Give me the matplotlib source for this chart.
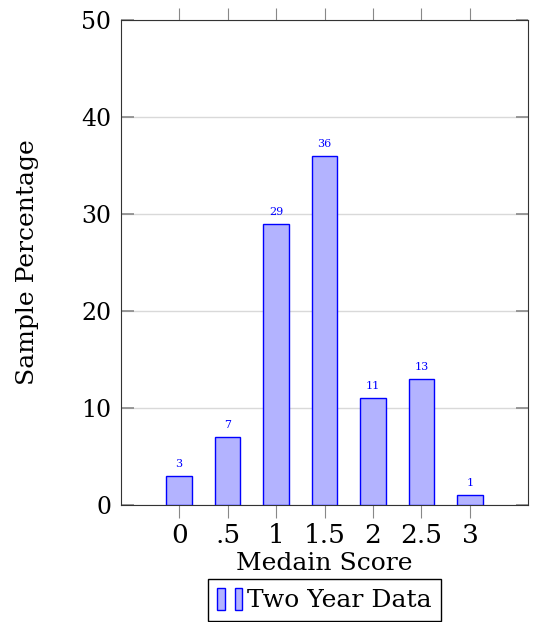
import matplotlib.pyplot as plt
from matplotlib.patches import Patch
from matplotlib.legend_handler import HandlerTuple

scores = ["0", ".5", "1", "1.5", "2", "2.5", "3"]
percent = [3, 7, 29, 36, 11, 13, 1]

plt.rcParams["font.family"] = ["DejaVu Serif"]

fig = plt.figure(figsize=(5.4, 6.22), dpi=100)
ax = fig.add_axes([0.224, 0.188, 0.754, 0.78])

x = list(range(len(scores)))
bars = ax.bar(x, percent, width=0.53, color="#b3b3ff", edgecolor="blue", linewidth=1, zorder=3)
for xi, v in zip(x, percent):
    ax.annotate(str(v), (xi, v), xytext=(0, 5), textcoords="offset points",
                ha="center", va="bottom", fontsize=8, color="blue")

ax.set_xlim(-1.2, 7.2)
ax.set_ylim(0, 50)
ax.set_xticks(x)
ax.set_xticklabels(scores, fontsize=19)
ax.set_yticks(range(0, 51, 10))
ax.tick_params(axis="y", labelsize=17, direction="in", left=True, right=True,
               length=9, color="#888888", width=1.2, pad=7)
ax.tick_params(axis="x", direction="out", top=True, bottom=True, length=9,
               color="#888888", pad=4)
ax.grid(axis="y", color="#d9d9d9", linewidth=1, zorder=0)
for s in ax.spines.values():
    s.set_color("#333333")

ax.set_xlabel("Medain Score", fontsize=18, labelpad=3)
ax.set_ylabel("Sample Percentage", fontsize=18, labelpad=30)

h = (Patch(facecolor="#b3b3ff", edgecolor="blue"), Patch(facecolor="#b3b3ff", edgecolor="blue"))
ax.legend([h], ["Two Year Data"], handler_map={tuple: HandlerTuple(ndivide=None, pad=0.4)},
          loc="upper center", bbox_to_anchor=(0.5, -0.152), fontsize=18, frameon=True,
          fancybox=False, edgecolor="black", framealpha=1, handlelength=1.0,
          handleheight=1.0, handletextpad=0.2, borderpad=0.35, borderaxespad=0)

fig.savefig("out.png", dpi=100)
